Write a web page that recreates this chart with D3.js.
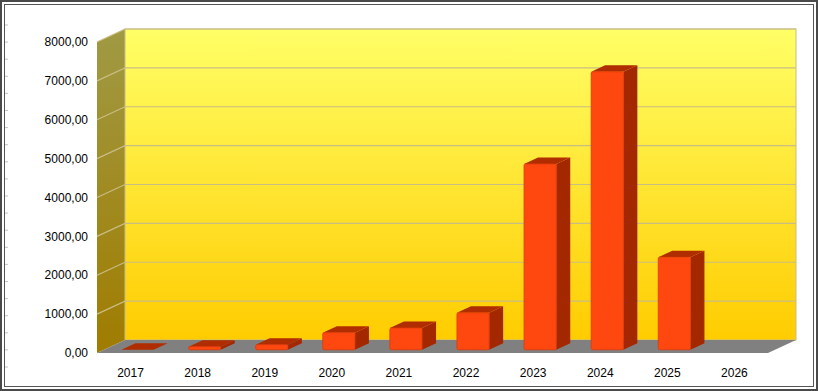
<!DOCTYPE html>
<meta charset="utf-8">
<style>
body { margin: 0; background: #fff; }
svg { display: block; }
text { font-family: "Liberation Sans", Arial, sans-serif; font-size: 12px; fill: #000; }
</style>
<body>
<script src="https://cdnjs.cloudflare.com/ajax/libs/d3/7.8.5/d3.min.js"></script>
<script>

var years = ["2017", "2018", "2019", "2020", "2021", "2022", "2023", "2024", "2025", "2026"];
var values = [0, 80, 130, 440, 560, 950, 4780, 7150, 2380, null];
var yTicks = [0, 1000, 2000, 3000, 4000, 5000, 6000, 7000, 8000];

var width = 818, height = 391;
// depth of the 3d box
var depthX = 28, depthY = 13;

var svg = d3.select("body").append("svg")
    .attr("width", width)
    .attr("height", height);

var defs = svg.append("defs");
var g1 = defs.append("linearGradient").attr("id", "wall").attr("x1", 0).attr("y1", 0).attr("x2", 0).attr("y2", 1);
g1.append("stop").attr("offset", "0%").attr("stop-color", "#ffff66");
g1.append("stop").attr("offset", "100%").attr("stop-color", "#ffcc00");
var g2 = defs.append("linearGradient").attr("id", "side").attr("x1", 0).attr("y1", 0).attr("x2", 0).attr("y2", 1);
g2.append("stop").attr("offset", "0%").attr("stop-color", "#a09a44");
g2.append("stop").attr("offset", "100%").attr("stop-color", "#a07c00");

// frame
svg.append("rect").attr("x", 1).attr("y", 1).attr("width", width - 2).attr("height", height - 2)
    .attr("fill", "#fff").attr("stroke", "#4a4a4a").attr("stroke-width", 2);
svg.append("rect").attr("x", 4.5).attr("y", 4.5).attr("width", width - 9).attr("height", height - 9)
    .attr("fill", "none").attr("stroke", "#555").attr("stroke-width", 1);
d3.range(25, 382, 17.1).forEach(function(t) {
  svg.append("line").attr("x1", 5).attr("x2", 8).attr("y1", t).attr("y2", t)
    .attr("stroke", "#c4c4c4");
});

var x = d3.scaleBand()
    .domain(years)
    .range([97, 768]);

var y = d3.scaleLinear()
    .domain([0, 8000])
    .range([340, 29]);

var left = 97, right = 768;

// left wall
svg.append("polygon")
    .attr("points", [[left, y(8000) + depthY], [left + depthX, y(8000)], [left + depthX, y(0)], [left, y(0) + depthY]].join(" "))
    .attr("fill", "url(#side)");

// back wall
svg.append("rect")
    .attr("x", left + depthX).attr("y", y(8000))
    .attr("width", right - left).attr("height", y(0) - y(8000))
    .attr("fill", "url(#wall)")
    .attr("stroke", "#c8bc88").attr("stroke-width", 1);

// floor
svg.append("polygon")
    .attr("points", [[left, y(0) + depthY], [right, y(0) + depthY], [right + depthX, y(0)], [left + depthX, y(0)]].join(" "))
    .attr("fill", "#808080");

// grid lines
yTicks.slice(1).forEach(function(t) {
  svg.append("polyline")
    .attr("points", [[left, y(t) + depthY], [left + depthX, y(t)], [right + depthX, y(t)]].join(" "))
    .attr("fill", "none")
    .attr("stroke", "#c9bd84")
    .attr("stroke-width", 1.2);
});

// y labels
svg.selectAll(".ylab").data(yTicks).enter().append("text")
    .attr("class", "ylab")
    .attr("x", 88)
    .attr("y", function(d) { return y(d) + depthY; })
    .attr("dy", "0.35em")
    .attr("text-anchor", "end")
    .text(function(d) { return d3.format(".2f")(d).replace(".", ","); });

// x labels
svg.selectAll(".xlab").data(years).enter().append("text")
    .attr("class", "xlab")
    .attr("x", function(d) { return x(d) + x.bandwidth() / 2; })
    .attr("y", 377)
    .attr("text-anchor", "middle")
    .text(function(d) { return d; });

// bars
var z0 = 0.25, z1 = 0.75;
var bw = x.bandwidth() * 0.48;
var bdx = (z1 - z0) * depthX, bdy = (z1 - z0) * depthY;

var bars = svg.selectAll(".bar")
    .data(years.map(function(d, i) { return { year: d, value: values[i] }; })
      .filter(function(d) { return d.value != null; }))
    .enter().append("g")
    .attr("class", "bar");

bars.each(function(d) {
  var gb = d3.select(this);
  var x0 = x(d.year) + x.bandwidth() / 2 - bw / 2 + z0 * depthX;
  var base = y(0) + (1 - z0) * depthY;
  var top = y(d.value) + (1 - z0) * depthY;
  var x1 = x0 + bw;
  gb.append("polygon")
    .attr("points", [[x1, top], [x1 + bdx, top - bdy], [x1 + bdx, base - bdy], [x1, base]].join(" "))
    .attr("fill", "#a32800");
  gb.append("polygon")
    .attr("points", [[x0, top], [x0 + bdx, top - bdy], [x1 + bdx, top - bdy], [x1, top]].join(" "))
    .attr("fill", "#b02d00");
  if (base - top > 0.5) {
    gb.append("rect")
      .attr("x", x0).attr("y", top)
      .attr("width", bw).attr("height", base - top)
      .attr("rx", 1.5)
      .attr("fill", "#ff4810")
      .attr("stroke", "#e03808").attr("stroke-width", 0.8);
  }
});

</script>
</body>
